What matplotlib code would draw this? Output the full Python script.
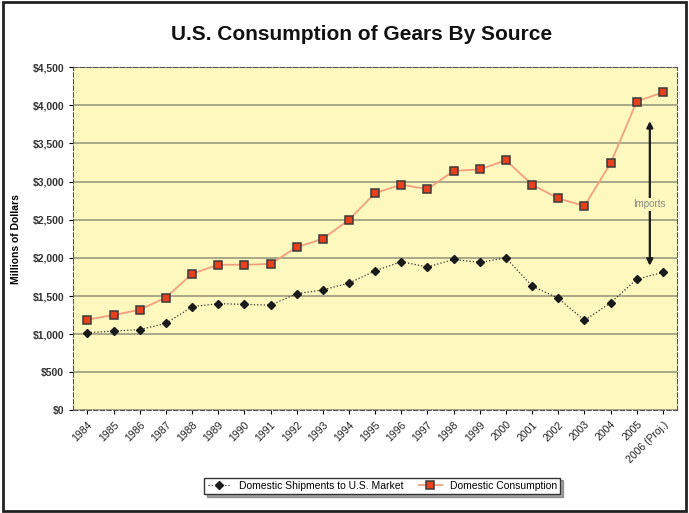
import numpy as np
import matplotlib
matplotlib.use('Agg')
import matplotlib.pyplot as plt

## Data
years = ['1984', '1985', '1986', '1987', '1988', '1989', '1990', '1991', '1992', '1993',
         '1994', '1995', '1996', '1997', '1998', '1999', '2000', '2001', '2002', '2003',
         '2004', '2005', '2006 (Proj.)']
shipments = [1020, 1040, 1060, 1140, 1360, 1400, 1390, 1380, 1530, 1580,
             1670, 1830, 1950, 1880, 1980, 1940, 2000, 1630, 1470, 1180,
             1410, 1720, 1810]
consumption = [1190, 1250, 1320, 1480, 1790, 1910, 1910, 1920, 2140, 2250,
               2500, 2850, 2960, 2900, 3140, 3160, 3280, 2960, 2780, 2680,
               3240, 4050, 4170]

plt.rcParams['font.family'] = ['Liberation Sans', 'DejaVu Sans']

fig = plt.figure(figsize=(6.89, 5.13), dpi=100)
ax = fig.add_axes([0.106, 0.20, 0.877, 0.669])
ax.set_facecolor('#FDF8BE')

x = np.arange(len(years))

ax.plot(x, consumption, color='#F0A080', lw=1.3, marker='s', markersize=5.5,
        markerfacecolor='#E8401C', markeredgecolor='#3A3A3A', markeredgewidth=1.1,
        label='Domestic Consumption', zorder=3)
ax.plot(x, shipments, color='#333333', lw=0.9, ls=':', marker='D', markersize=4.3,
        markerfacecolor='#1A1A1A', markeredgecolor='#1A1A1A',
        label='Domestic Shipments to U.S. Market', zorder=3)

ax.set_ylim(0, 4500)
ax.set_xlim(-0.55, len(years) - 0.45)
ax.set_yticks(np.arange(0, 4501, 500))
ax.set_yticklabels(['${:,}'.format(v) for v in range(0, 4501, 500)],
                   fontsize=7.5, fontweight='bold', color='#333333')
ax.set_xticks(x)
ax.set_xticklabels(years, rotation=45, ha='right', rotation_mode='anchor',
                   fontsize=7.5, color='#222222')
ax.yaxis.grid(True, color='#9A9A80', lw=1.2)
ax.set_axisbelow(True)
ax.tick_params(length=3, width=0.8)
for s in ax.spines.values():
    s.set_linestyle((0, (4, 2)))
    s.set_color('#555555')
    s.set_linewidth(0.8)

ax.set_ylabel('Millions of Dollars', fontsize=7.5, fontweight='bold', labelpad=8)

## Imports arrow between the two series near 2006
ax.annotate('', xy=(21.5, 1860), xytext=(21.5, 3830),
            arrowprops=dict(arrowstyle='<|-|>', color='#1A1A1A', lw=1.6,
                            mutation_scale=9))
ax.text(21.5, 2700, 'Imports', ha='center', va='center', fontsize=7,
        color='#888888', bbox=dict(facecolor='#FDF8BE', edgecolor='none', pad=1))

fig.suptitle('U.S. Consumption of Gears By Source', fontsize=15, fontweight='bold',
             x=0.525, y=0.952, color='#111111')

handles, labels = ax.get_legend_handles_labels()
leg = fig.legend(handles[::-1], labels[::-1], loc='center', bbox_to_anchor=(0.555, 0.053),
                 ncol=2, fontsize=7.5, frameon=True, fancybox=False, shadow=True,
                 handlelength=2.2, columnspacing=1.5, borderpad=0.3)
leg.get_frame().set_edgecolor('#333333')
leg.get_frame().set_facecolor('#FFFFFF')

## Outer border
fig.patches.append(plt.Rectangle((0.004, 0.004), 0.992, 0.992, transform=fig.transFigure,
                                 fill=False, edgecolor='#222222', lw=2))

fig.savefig('out.png', dpi=100)
